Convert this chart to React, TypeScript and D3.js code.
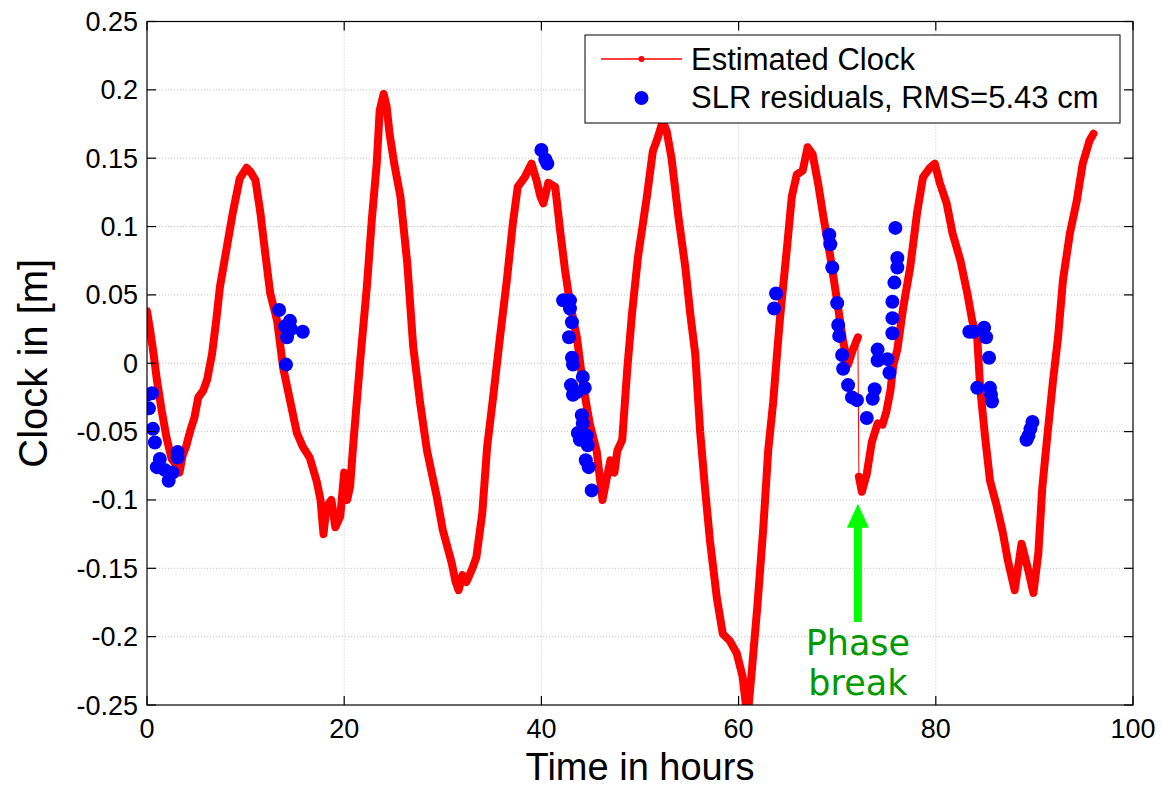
import React from "react";
import * as d3 from "d3";

// ---------- data ----------
const clockBeforeBreak: [number, number][] = [
  [0, 0.038], [0.3, 0.025], [0.7, 0.005], [1.0, -0.012], [1.5, -0.035], [2.0, -0.055], [2.5, -0.07], [3.0, -0.075],
  [3.3, -0.08], [3.6, -0.068], [4.0, -0.06], [4.4, -0.049], [4.8, -0.04], [5.2, -0.025], [5.7, -0.02], [6.1, -0.012],
  [6.6, 0.007], [7.0, 0.03], [7.4, 0.056], [8.1, 0.085], [8.7, 0.11], [9.4, 0.135], [10.1, 0.143], [10.5, 0.14],
  [11.0, 0.134], [11.5, 0.11], [12.0, 0.08], [12.5, 0.051], [13.2, 0.031], [13.8, -0.003], [14.5, -0.027], [15.2, -0.051],
  [15.8, -0.061], [16.5, -0.069], [17.2, -0.086], [17.6, -0.1], [17.9, -0.125], [18.2, -0.105], [18.7, -0.1], [19.1, -0.12],
  [19.6, -0.112], [20.0, -0.08], [20.3, -0.1], [20.6, -0.09], [20.9, -0.061], [21.6, 0.0], [22.3, 0.056], [22.8, 0.105],
  [23.3, 0.146], [23.6, 0.185], [24.0, 0.197], [24.3, 0.188], [24.6, 0.168], [25.1, 0.145], [25.7, 0.122], [26.4, 0.073],
  [27.0, 0.012], [27.7, -0.029], [28.4, -0.064], [29.4, -0.098], [30.0, -0.122], [30.9, -0.146], [31.3, -0.16], [31.6, -0.166],
  [32.0, -0.155], [32.4, -0.16], [33.0, -0.15], [33.4, -0.142], [34.0, -0.11], [34.5, -0.061], [35.1, -0.025], [35.8, 0.019],
  [36.5, 0.061], [37.1, 0.102], [37.6, 0.129], [38.3, 0.136], [39.0, 0.146], [39.5, 0.134], [39.9, 0.122], [40.2, 0.117],
  [40.7, 0.132], [41.4, 0.129], [41.9, 0.097], [42.4, 0.068], [42.9, 0.044], [43.6, 0.019], [44.2, -0.015], [44.9, -0.044],
  [45.6, -0.064], [46.2, -0.1], [46.6, -0.085], [47.0, -0.071], [47.4, -0.08], [47.7, -0.064], [48.2, -0.056], [48.7, -0.005],
  [49.2, 0.037], [49.8, 0.078], [50.7, 0.122], [51.3, 0.155], [51.8, 0.165], [52.3, 0.177], [52.7, 0.17], [53.2, 0.15],
  [53.9, 0.107], [54.6, 0.07], [55.1, 0.036], [55.6, 0.007], [56.1, -0.05], [56.6, -0.092], [57.1, -0.13], [57.8, -0.172],
  [58.4, -0.198], [59.1, -0.203], [59.8, -0.212], [60.4, -0.229], [60.9, -0.26], [61.4, -0.22], [61.9, -0.178], [62.5, -0.121],
  [63.0, -0.064], [63.5, -0.029], [63.9, 0.007], [64.2, 0.033], [64.9, 0.084], [65.4, 0.122], [65.9, 0.138], [66.5, 0.141],
  [67.0, 0.158], [67.5, 0.153], [68.1, 0.13], [68.6, 0.107], [69.3, 0.078], [70.0, 0.045], [70.6, 0.016], [71.1, -0.001],
  [71.6, 0.01], [72.1, 0.019],
];

const clockAfterBreak: [number, number][] = [
  [72.2, -0.083], [72.5, -0.094], [73.0, -0.081], [73.5, -0.058], [74.1, -0.044], [74.6, -0.045], [75.0, -0.035], [75.4, -0.02],
  [75.7, -0.001], [76.1, 0.01], [76.7, 0.041], [77.4, 0.07], [78.1, 0.11], [78.7, 0.136], [79.4, 0.143], [79.9, 0.146],
  [80.4, 0.132], [81.1, 0.117], [81.7, 0.095], [82.5, 0.075], [83.2, 0.051], [83.7, 0.031], [84.2, 0.019], [84.5, -0.018],
  [85.0, -0.054], [85.5, -0.086], [86.2, -0.105], [86.8, -0.124], [87.3, -0.144], [88.0, -0.166], [88.7, -0.132], [89.4, -0.152],
  [89.9, -0.168], [90.4, -0.139], [90.8, -0.091], [91.3, -0.054], [91.9, -0.012], [92.4, 0.019], [92.9, 0.061], [93.6, 0.095],
  [94.3, 0.119], [94.9, 0.146], [95.6, 0.163], [96.0, 0.168],
];

const slrResiduals: [number, number][] = [
  [0.0, -0.023], [0.5, -0.022], [0.2, -0.033], [0.6, -0.048], [0.8, -0.058], [1.3, -0.07], [1.0, -0.076], [1.8, -0.078],
  [2.2, -0.086], [2.6, -0.08], [3.1, -0.065], [3.1, -0.069],
  [13.4, 0.039], [14.5, 0.031], [14.0, 0.027], [14.2, 0.019], [15.8, 0.023], [14.1, -0.001], [14.6, 0.025],
  [40.0, 0.156], [40.4, 0.149], [40.6, 0.146], [42.2, 0.046], [42.9, 0.046], [42.9, 0.04], [43.1, 0.03], [42.8, 0.019],
  [43.1, 0.004], [43.2, -0.001], [44.2, -0.01], [43.0, -0.016], [43.2, -0.023], [44.4, -0.018], [43.6, -0.021], [44.1, -0.038],
  [44.2, -0.044], [43.7, -0.051], [43.9, -0.056], [44.6, -0.053], [44.7, -0.06], [44.5, -0.071], [44.8, -0.076], [45.1, -0.093],
  [63.8, 0.051], [63.6, 0.04],
  [69.2, 0.094], [69.3, 0.087], [69.5, 0.07], [70.0, 0.044], [70.1, 0.028], [70.2, 0.02], [70.5, 0.006], [70.6, -0.004],
  [71.1, -0.016], [71.5, -0.025], [72.0, -0.027], [73.0, -0.04], [73.6, -0.026], [73.8, -0.019], [74.1, 0.01], [74.1, 0.002],
  [75.1, 0.003], [75.3, -0.007], [75.9, 0.099], [76.1, 0.077], [76.1, 0.07], [75.8, 0.059], [75.6, 0.045], [75.6, 0.033],
  [75.6, 0.022],
  [83.4, 0.023], [83.8, 0.023], [84.9, 0.026], [85.1, 0.019], [85.4, 0.004], [84.2, -0.018], [85.5, -0.018], [85.6, -0.023],
  [85.7, -0.028],
  [89.8, -0.043], [89.6, -0.048], [89.4, -0.053], [89.2, -0.056],
];

const xTicks = [0, 20, 40, 60, 80, 100];
const xTickLabels = ["0", "20", "40", "60", "80", "100"];
const yTicks = [0.25, 0.2, 0.15, 0.1, 0.05, 0, -0.05, -0.1, -0.15, -0.2, -0.25];
const yTickLabels = ["0.25", "0.2", "0.15", "0.1", "0.05", "0", "-0.05", "-0.1", "-0.15", "-0.2", "-0.25"];
const legendLabels = ["Estimated Clock", "SLR residuals, RMS=5.43 cm"];
const phaseBreakAt: [number, number] = [72.2, -0.094];

export default function App() {
  const W = 1161, H = 789;
  const L = 147, R = 1133, T = 21.5, B = 705;
  const x = d3.scaleLinear().domain([0, 100]).range([L, R]);
  const y = d3.scaleLinear().domain([-0.25, 0.25]).range([B, T]);
  const line = d3.line<[number, number]>().x((d) => x(d[0])).y((d) => y(d[1]));
  const font = "'Liberation Sans', Arial, Helvetica, sans-serif";
  const red = "#ff0000";
  const blue = "#0000ff";
  const tick = 9;

  const lastBefore = clockBeforeBreak[clockBeforeBreak.length - 1];
  const firstAfter = clockAfterBreak[0];

  const ax = x(phaseBreakAt[0]) - 1;
  const tipY = y(phaseBreakAt[1]) + 12;

  return (
    <svg width={W} height={H} style={{ position: "absolute", left: 0, top: 0, background: "#fff" }} fontFamily={font}>
      <defs>
        <clipPath id="plotclip">
          <rect x={L} y={T} width={R - L} height={B - T} />
        </clipPath>
      </defs>
      <rect x={0} y={0} width={W} height={H} fill="#fff" />

      {/* grid */}
      {xTicks.slice(1, -1).map((t) => (
        <line key={"gx" + t} x1={x(t)} x2={x(t)} y1={T} y2={B} stroke="#c4c4c4" strokeWidth={1} strokeDasharray="1 2" />
      ))}
      {yTicks.slice(1, -1).map((t) => (
        <line key={"gy" + t} x1={L} x2={R} y1={y(t)} y2={y(t)} stroke="#c4c4c4" strokeWidth={1} strokeDasharray="1 2" />
      ))}

      {/* data */}
      <g clipPath="url(#plotclip)">
        <path d={line(clockBeforeBreak) || ""} fill="none" stroke={red} strokeWidth={8} strokeLinejoin="round" strokeLinecap="round" />
        <path d={line(clockAfterBreak) || ""} fill="none" stroke={red} strokeWidth={8} strokeLinejoin="round" strokeLinecap="round" />
        <path d={line([lastBefore, firstAfter]) || ""} fill="none" stroke={red} strokeWidth={1} />
        {slrResiduals.map((d, i) => (
          <circle key={"s" + i} cx={x(d[0])} cy={y(d[1])} r={7} fill={blue} />
        ))}
      </g>

      {/* axes box */}
      <rect x={L} y={T} width={R - L} height={B - T} fill="none" stroke="#000" strokeWidth={1.2} />
      {xTicks.map((t) => (
        <g key={"xt" + t}>
          <line x1={x(t)} x2={x(t)} y1={B} y2={B - tick} stroke="#000" strokeWidth={1.2} />
          <line x1={x(t)} x2={x(t)} y1={T} y2={T + tick} stroke="#000" strokeWidth={1.2} />
        </g>
      ))}
      {yTicks.map((t) => (
        <g key={"yt" + t}>
          <line x1={L} x2={L + tick} y1={y(t)} y2={y(t)} stroke="#000" strokeWidth={1.2} />
          <line x1={R} x2={R - tick} y1={y(t)} y2={y(t)} stroke="#000" strokeWidth={1.2} />
        </g>
      ))}
      {xTicks.map((t, i) => (
        <text key={"xl" + t} x={x(t)} y={B + 33} fontSize={27} textAnchor="middle" fill="#000">
          {xTickLabels[i]}
        </text>
      ))}
      {yTicks.map((t, i) => (
        <text key={"yl" + t} x={L - 9} y={y(t) + 9.5} fontSize={27} textAnchor="end" fill="#000">
          {yTickLabels[i]}
        </text>
      ))}

      {/* axis titles */}
      <text x={(L + R) / 2} y={780} fontSize={38} textAnchor="middle" fill="#000">Time in hours</text>
      <text transform={`translate(47,${y(0)}) rotate(-90)`} fontSize={40} textAnchor="middle" fill="#000">Clock in [m]</text>

      {/* legend */}
      <rect x={585} y={35} width={535} height={88} fill="#fff" stroke="#000" strokeWidth={1} />
      <line x1={601} x2={682} y1={59} y2={59} stroke={red} strokeWidth={1.5} />
      <circle cx={641.5} cy={59} r={3} fill={red} />
      <text x={691} y={70} fontSize={31} fill="#000">{legendLabels[0]}</text>
      <circle cx={641.5} cy={98} r={7} fill={blue} />
      <text x={691} y={108} fontSize={31} fill="#000">{legendLabels[1]}</text>

      {/* phase break annotation */}
      <rect x={ax - 4} y={tipY + 22} width={8} height={622 - (tipY + 22)} fill="#00ff00" />
      <path d={`M${ax},${tipY} L${ax + 11},${tipY + 24} L${ax - 11},${tipY + 24} Z`} fill="#00ff00" />
      <text x={ax} y={655} fontSize={35} textAnchor="middle" fill="#009900" fontFamily="'DejaVu Sans', Verdana, sans-serif">Phase</text>
      <text x={ax} y={695} fontSize={35} textAnchor="middle" fill="#009900" fontFamily="'DejaVu Sans', Verdana, sans-serif">break</text>
    </svg>
  );
}
